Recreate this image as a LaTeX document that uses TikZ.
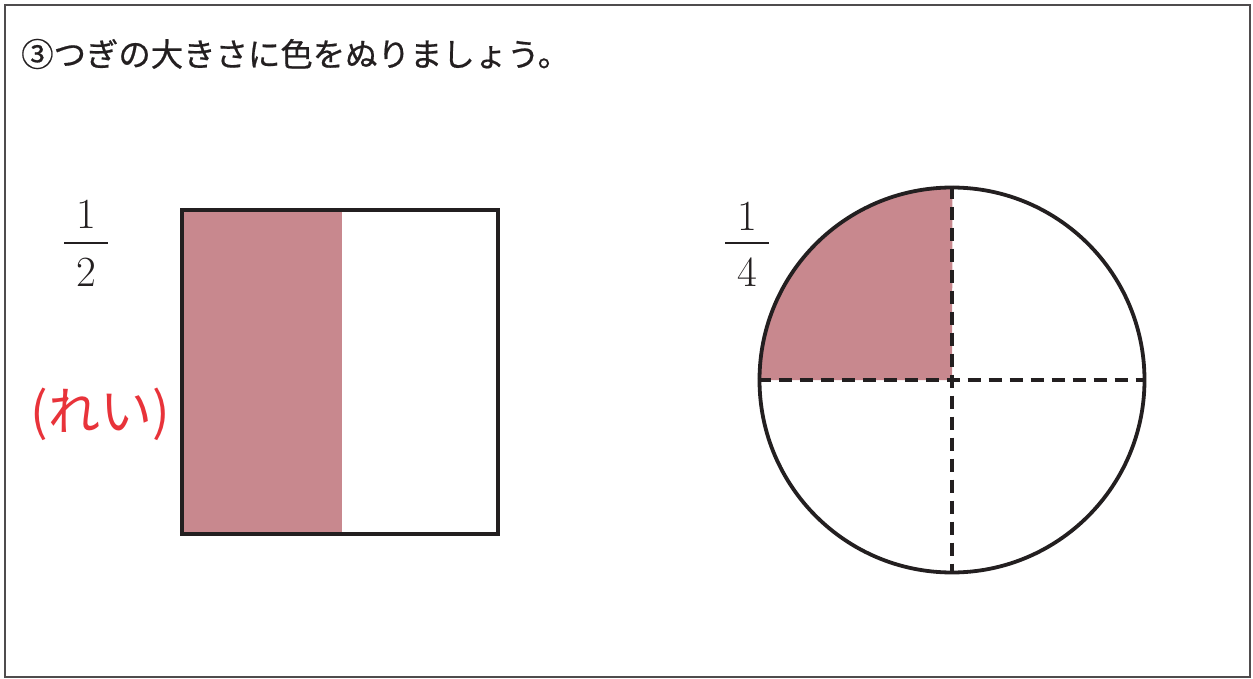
\documentclass[tikz,border=0pt]{standalone}
\usepackage{fontspec}
\newfontfamily\cjk{Noto Sans CJK JP}
\newfontfamily\cjkm[FakeBold=0.6]{Noto Sans CJK JP}
\definecolor{fillpink}{HTML}{C8888E}
\definecolor{rei}{HTML}{E8333A}
\definecolor{ink}{HTML}{231F20}
\begin{document}
\begin{tikzpicture}[x=1pt,y=-1pt,
  outline/.style={draw=ink,line width=3.8pt},
  divline/.style={draw=ink,line width=3.8pt,dash pattern=on 13pt off 8pt},
  digit/.style={font=\fontsize{43}{48}\selectfont,text=ink,inner sep=0pt,anchor=base},
  fracbar/.style={draw=ink,line width=1.6pt}]
\useasboundingbox (0,0) rectangle (1253,679);
\draw[draw=ink!80,line width=1.8pt] (5,5) rectangle (1250,677);
\node[anchor=west,font=\cjkm\fontsize{32.4}{38}\selectfont,text=ink,inner sep=0pt] (title) at (21,54) {③つぎの大きさに色をぬりましょう。};
% rectangle
\fill[fillpink] (182,210) rectangle (342,534);
\node[outline,minimum width=316pt,minimum height=324pt,inner sep=0pt] (rect) at (340,372) {};
% fraction 1/2
\node[digit] (hnum) at (86,229) {1};
\coordinate (hl) at (64,243);
\coordinate (hr) at (108,243);
\draw[fracbar] (hl) -- (hr);
\node[digit] (hden) at (86,287) {2};
\node[font=\cjk\fontsize{52}{58}\selectfont,text=rei,inner sep=0pt] (rei) at (100,414) {(れい)};
% circle
\coordinate (c) at (952,380);
\fill[fillpink] (c) -- (760,380) arc[start angle=180,end angle=270,radius=192.5] -- cycle;
\node[draw=ink,line width=3.8pt,circle,minimum size=385pt,inner sep=0pt] (circ) at (c) {};
\draw[divline] (circ.north) -- (circ.south);
\draw[divline] (circ.west) -- (circ.east);
% fraction 1/4
\node[digit] (qnum) at (747,230) {1};
\coordinate (ql) at (725,243);
\coordinate (qr) at (769,243);
\draw[fracbar] (ql) -- (qr);
\node[digit] (qden) at (747,287) {4};
\end{tikzpicture}
\end{document}
